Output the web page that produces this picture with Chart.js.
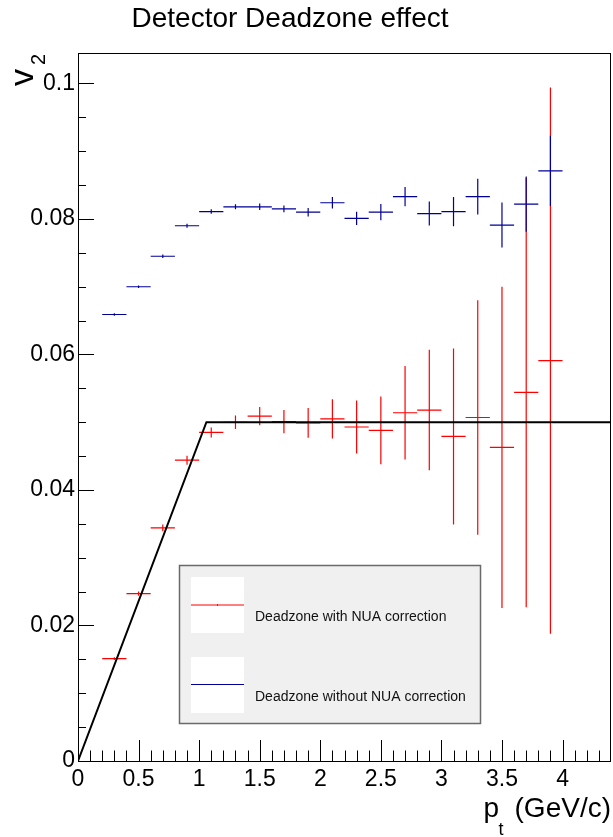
<!DOCTYPE html>
<html>
<head>
<meta charset="utf-8">
<script src="https://cdn.jsdelivr.net/npm/chart.js@4.4.0/dist/chart.umd.min.js"></script>
<style>
html,body{margin:0;padding:0;background:#ffffff;}
#wrap{width:613px;height:837px;position:relative;}
</style>
</head>
<body>
<div id="wrap"><canvas id="c" width="613" height="837"></canvas></div>
<script>
// ---------------- data ----------------
const titleText = 'Detector Deadzone effect';
const seriesLabels = ['Deadzone with NUA correction', 'Deadzone without NUA correction'];
const binCenters = [0.3,0.5,0.7,0.9,1.1,1.3,1.5,1.7,1.9,2.1,2.3,2.5,2.7,2.9,3.1,3.3,3.5,3.7,3.9];
const binHalfWidth = 0.1;
const withNUA = [0.0151,0.0247,0.0344,0.0444,0.0485,0.0500,0.0509,0.0501,0.0499,0.0505,0.0493,0.0488,0.0514,0.0518,0.0479,0.0507,0.0463,0.0544,0.0591];
const withNUAErr = [0.0002,0.0003,0.0005,0.00066,0.00074,0.00098,0.00135,0.00172,0.0022,0.0029,0.0039,0.0050,0.0069,0.0089,0.0130,0.0173,0.0237,0.0317,0.0403];
const withoutNUA = [0.0659,0.0700,0.0745,0.0790,0.0811,0.0818,0.0818,0.0815,0.0810,0.0824,0.0801,0.0810,0.0833,0.0808,0.0811,0.0833,0.0791,0.0822,0.0871];
const withoutNUAErr = [0.0002,0.0002,0.00027,0.0003,0.00032,0.00037,0.00047,0.00049,0.00064,0.00086,0.00098,0.0012,0.00142,0.00177,0.00216,0.00265,0.00332,0.00408,0.0052];
const refLineX = [0, 1.06, 4.4];
const refLineY = [0, 0.05, 0.05];
const xMajorTicks = [0,0.5,1,1.5,2,2.5,3,3.5,4];
const xMajorLabels = ['0','0.5','1','1.5','2','2.5','3','3.5','4'];
const yMajorTicks = [0,0.02,0.04,0.06,0.08,0.1];
const yMajorLabels = ['0','0.02','0.04','0.06','0.08','0.1'];
const xMinorStep = 0.1, xMinorMax = 4.3;
const yMinorStep = 0.005, yMinorMax = 0.1;
const xRange = [0, 4.4];
const yRange = [0, 0.1045];

// ---------------- helpers ----------------
function minorValues(step, max){
  const out=[]; const n=Math.round(max/step);
  for(let i=0;i<=n;i++) out.push(+(i*step).toFixed(6));
  return out;
}
const xAllTicks = minorValues(xMinorStep, xMinorMax);
const yAllTicks = minorValues(yMinorStep, yMinorMax);
function isMajor(arr, v){ return arr.some(t=>Math.abs(t-v)<1e-9); }
function labelFor(arr, labels, v){ const i=arr.findIndex(t=>Math.abs(t-v)<1e-9); return i>=0?labels[i]:''; }

function errorSegments(xs, ys, es){
  const pts=[];
  xs.forEach((x,i)=>{
    pts.push({x:x-binHalfWidth,y:ys[i]},{x:x+binHalfWidth,y:ys[i]},{x:x,y:null});
    pts.push({x:x,y:ys[i]-es[i]},{x:x,y:ys[i]+es[i]},{x:x,y:null});
  });
  return pts;
}

const FONT = '"Liberation Sans", Arial, Helvetica, sans-serif';
const RED = '#ff0000', BLUE = '#000099';

// ---------------- plugins ----------------
const frameTicks = {
  id:'frameTicks',
  beforeDatasetsDraw(chart){
    const {ctx, chartArea:a, scales:{x, y}} = chart;
    ctx.save();
    ctx.strokeStyle='#000'; ctx.lineWidth=1;
    ctx.beginPath();
    xAllTicks.forEach(v=>{
      const px = Math.round(x.getPixelForValue(v))+0.5;
      const len = isMajor(xMajorTicks, v) ? 21 : 10.5;
      ctx.moveTo(px, a.bottom); ctx.lineTo(px, a.bottom-len);
    });
    yAllTicks.forEach(v=>{
      const py = Math.round(y.getPixelForValue(v))+0.5;
      const len = isMajor(yMajorTicks, v) ? 16 : 8;
      ctx.moveTo(a.left, py); ctx.lineTo(a.left+len, py);
    });
    ctx.stroke();
    ctx.strokeRect(Math.round(a.left)+0.5, Math.round(a.top)+0.5, Math.round(a.right-a.left)-1, Math.round(a.bottom-a.top));
    ctx.restore();
  }
};

const texts = {
  id:'texts',
  afterDraw(chart){
    const ctx = chart.ctx;
    ctx.save();
    ctx.fillStyle='#000';
    // title
    ctx.font = '28px '+FONT; ctx.textAlign='center'; ctx.textBaseline='alphabetic';
    ctx.fillText(titleText, 290, 27);
    // x title  p_t (GeV/c)
    ctx.textAlign='right';
    ctx.font = '28px '+FONT;
    ctx.fillText('(GeV/c)', 611, 817);
    const wG = ctx.measureText('(GeV/c)').width;
    ctx.font = '18px '+FONT;
    const xt = 611 - wG - 11;
    ctx.fillText('t', xt, 835);
    const wt = ctx.measureText('t').width;
    ctx.font = '28px '+FONT;
    ctx.fillText('p', xt - wt + 0.5, 817);
    // y title v_2
    ctx.translate(33, 86); ctx.rotate(-Math.PI/2);
    ctx.textAlign='left';
    ctx.font = '34px '+FONT;
    ctx.fillText('v', 0, 0);
    const wv = ctx.measureText('v').width;
    ctx.font = '20px '+FONT;
    ctx.fillText('2', wv+4, 12);
    ctx.restore();

    // legend
    ctx.save();
    ctx.fillStyle='#f0f0f0';
    ctx.fillRect(179, 565, 302, 159);
    ctx.strokeStyle='#6a6a6a'; ctx.lineWidth=1.5;
    ctx.strokeRect(179.5, 565.5, 301, 158);
    const entries = [
      {label: chart.data.datasets[2].label, color: RED, boxTop: 577, lineY: 605, textY: 617},
      {label: chart.data.datasets[1].label, color: BLUE, boxTop: 657, lineY: 684.5, textY: 697}
    ];
    entries.forEach(e=>{
      ctx.fillStyle='#ffffff';
      ctx.fillRect(191, e.boxTop, 53, 56);
      ctx.strokeStyle=e.color; ctx.lineWidth=1;
      ctx.beginPath(); ctx.moveTo(191, e.lineY); ctx.lineTo(244, e.lineY); ctx.stroke();
      ctx.fillStyle='#000'; ctx.fillRect(217, e.lineY-0.5, 1, 1);
      ctx.fillStyle='#111';
      ctx.font='14px '+FONT; ctx.textAlign='left'; ctx.textBaseline='middle';
      ctx.fillText(e.label, 255, e.textY);
    });
    ctx.restore();
  }
};

// ---------------- chart ----------------
const ctx = document.getElementById('c').getContext('2d');
new Chart(ctx, {
  type:'scatter',
  data:{
    datasets:[
      {
        label:'reference',
        data: refLineX.map((x,i)=>({x:x, y:refLineY[i]})),
        showLine:true, borderColor:'#000', borderWidth:2, pointRadius:0, fill:false, tension:0
      },
      {
        label: seriesLabels[1],
        data: errorSegments(binCenters, withoutNUA, withoutNUAErr),
        showLine:true, spanGaps:false, borderColor:BLUE, borderWidth:1.2, pointRadius:0, fill:false, tension:0
      },
      {
        label: seriesLabels[0],
        data: errorSegments(binCenters, withNUA, withNUAErr),
        showLine:true, spanGaps:false, borderColor:RED, borderWidth:1.2, pointRadius:0, fill:false, tension:0
      }
    ]
  },
  options:{
    responsive:false,
    animation:false,
    devicePixelRatio:1,
    layout:{padding:{top:53, right:2, left:0, bottom:0}},
    plugins:{legend:{display:false}, tooltip:{enabled:false}, title:{display:false}},
    scales:{
      x:{
        type:'linear', position:'bottom', min:xRange[0], max:xRange[1],
        grid:{display:false, drawTicks:false}, border:{display:false},
        afterBuildTicks(s){ s.ticks = xAllTicks.map(v=>({value:v})); },
        afterFit(s){ s.height = 76; },
        ticks:{
          autoSkip:false, maxRotation:0, minRotation:0, padding:5, color:'#000',
          font:{family:FONT, size:23},
          callback:(v)=>labelFor(xMajorTicks, xMajorLabels, v)
        }
      },
      y:{
        type:'linear', position:'left', min:yRange[0], max:yRange[1],
        grid:{display:false, drawTicks:false}, border:{display:false},
        afterBuildTicks(s){ s.ticks = yAllTicks.map(v=>({value:v})); },
        afterFit(s){ s.width = 78; },
        ticks:{
          autoSkip:false, padding:3, color:'#000',
          font:{family:FONT, size:23},
          callback:(v)=>labelFor(yMajorTicks, yMajorLabels, v)
        }
      }
    }
  },
  plugins:[frameTicks, texts]
});
</script>
</body>
</html>
